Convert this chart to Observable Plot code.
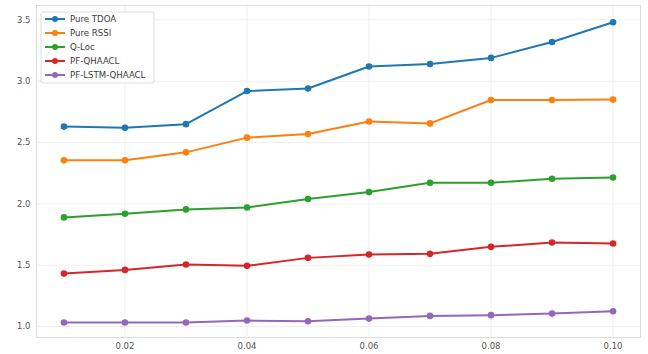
<!DOCTYPE html>
<html>
<head>
<meta charset="utf-8">
<script src="https://cdn.jsdelivr.net/npm/d3@7"></script>
<script src="https://cdn.jsdelivr.net/npm/@observablehq/plot@0.6"></script>
<style>
  body { margin: 0; background: #fff; }
  #chart { width: 648px; height: 354px; }
</style>
</head>
<body>
<div id="chart"></div>
<script>
// Noise level on the x axis
const noise = [0.01, 0.02, 0.03, 0.04, 0.05, 0.06, 0.07, 0.08, 0.09, 0.10];

// Localization error for each method
const pureTDOA   = [2.63, 2.62, 2.65, 2.92, 2.94, 3.12, 3.14, 3.19, 3.32, 3.48];
const pureRSSI   = [2.355, 2.355, 2.42, 2.54, 2.57, 2.672, 2.656, 2.847, 2.847, 2.85];
const qLoc       = [1.89, 1.92, 1.955, 1.97, 2.04, 2.096, 2.172, 2.172, 2.205, 2.215];
const pfQHAACL   = [1.432, 1.462, 1.506, 1.495, 1.56, 1.587, 1.593, 1.65, 1.685, 1.677];
const pfLstm     = [1.033, 1.033, 1.033, 1.049, 1.044, 1.065, 1.087, 1.093, 1.106, 1.125];

const seriesNames  = ["Pure TDOA", "Pure RSSI", "Q-Loc", "PF-QHAACL", "PF-LSTM-QHAACL"];
const seriesValues = [pureTDOA, pureRSSI, qLoc, pfQHAACL, pfLstm];
const seriesColors = ["#1f77b4", "#ff7f0e", "#2ca02c", "#d62728", "#9467bd"];

const xTicks = [0.02, 0.04, 0.06, 0.08, 0.10];
const yTicks = [1.0, 1.5, 2.0, 2.5, 3.0, 3.5];

const rows = seriesNames.flatMap((name, i) =>
  noise.map((x, j) => ({ series: name, x, y: seriesValues[i][j] }))
);

const font = "'DejaVu Sans', sans-serif";

const chart = Plot.plot({
  width: 648,
  height: 354,
  marginLeft: 36,
  marginRight: 8,
  marginTop: 5,
  marginBottom: 17,
  style: { fontFamily: font, fontSize: "8.5px", color: "#555", background: "#fff" },
  x: { domain: [0.0055, 0.1045], ticks: xTicks, tickFormat: d3.format(".2f"), label: null },
  y: { domain: [0.911, 3.617], ticks: yTicks, tickFormat: d3.format(".1f"), label: null },
  color: { domain: seriesNames, range: seriesColors },
  marks: [
    Plot.gridX(xTicks, { stroke: "#ebebeb", strokeOpacity: 1, strokeWidth: 0.8 }),
    Plot.gridY(yTicks, { stroke: "#ebebeb", strokeOpacity: 1, strokeWidth: 0.8 }),
    Plot.frame({ stroke: "#dcdcdc", strokeWidth: 1 }),
    Plot.axisX(xTicks, { tickSize: 0, tickPadding: 5, fill: "#555", tickFormat: d3.format(".2f"), label: null }),
    Plot.axisY(yTicks, { tickSize: 0, tickPadding: 6, fill: "#555", tickFormat: d3.format(".1f"), label: null }),
    Plot.line(rows, { x: "x", y: "y", z: "series", stroke: "series", strokeWidth: 2 }),
    Plot.dot(rows, { x: "x", y: "y", fill: "series", r: 3.3 })
  ]
});

document.getElementById("chart").appendChild(chart);

// Legend box in the upper-left corner of the plotting area
const svg = d3.select(chart);
const lg = svg.append("g").attr("transform", "translate(41,12)");
lg.append("rect")
  .attr("width", 113).attr("height", 71)
  .attr("rx", 2)
  .attr("fill", "#fff").attr("fill-opacity", 0.85)
  .attr("stroke", "#dedede");
seriesNames.forEach((name, i) => {
  const g = lg.append("g").attr("transform", `translate(0,${7 + i * 14})`);
  g.append("line").attr("x1", 4).attr("x2", 24).attr("y1", 0).attr("y2", 0)
    .attr("stroke", seriesColors[i]).attr("stroke-width", 2);
  g.append("circle").attr("cx", 14).attr("cy", 0).attr("r", 3).attr("fill", seriesColors[i]);
  g.append("text").attr("x", 29).attr("y", 0).attr("dy", "0.35em")
    .attr("text-anchor", "start")
    .attr("font-family", font).attr("font-size", "8.6px").attr("fill", "#3a3a3a")
    .text(name);
});
</script>
</body>
</html>
